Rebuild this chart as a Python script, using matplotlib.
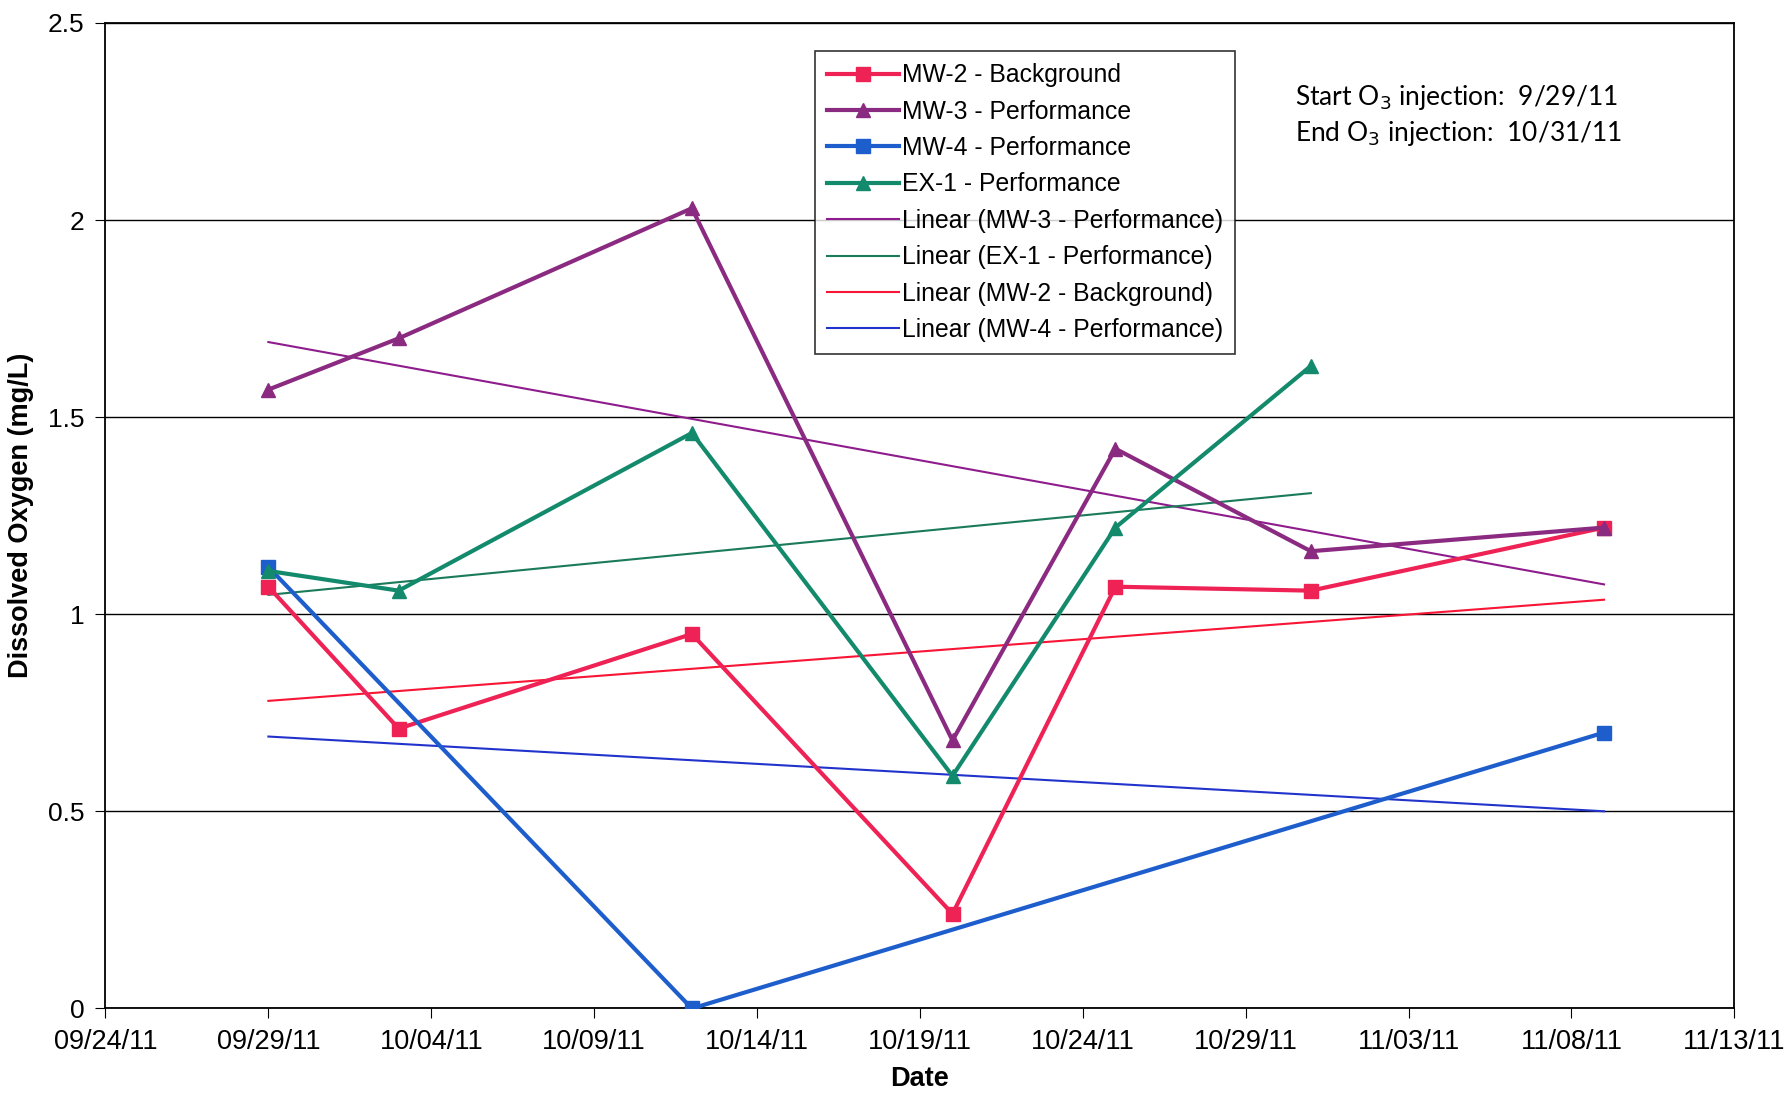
import datetime as dt
import numpy as np
import matplotlib
matplotlib.use("Agg")
import matplotlib.pyplot as plt
import matplotlib.dates as mdates

# sampling dates (days) and dissolved oxygen readings, mg/L
dates_all = ["2011-09-29", "2011-10-03", "2011-10-12", "2011-10-20",
             "2011-10-25", "2011-10-31", "2011-11-09"]
mw2 = [1.07, 0.71, 0.95, 0.24, 1.07, 1.06, 1.22]
mw3 = [1.57, 1.70, 2.03, 0.68, 1.42, 1.16, 1.22]
mw4_dates = ["2011-09-29", "2011-10-12", "2011-11-09"]
mw4 = [1.12, 0.0, 0.70]
ex1_dates = dates_all[:6]
ex1 = [1.11, 1.06, 1.46, 0.59, 1.22, 1.63]

tick_dates = ["2011-09-24", "2011-09-29", "2011-10-04", "2011-10-09", "2011-10-14",
              "2011-10-19", "2011-10-24", "2011-10-29", "2011-11-03", "2011-11-08",
              "2011-11-13"]


def to_num(ds):
    return mdates.date2num([dt.datetime.strptime(d, "%Y-%m-%d") for d in ds])


narrow = ["Liberation Sans Narrow", "Liberation Sans", "DejaVu Sans"]

fig = plt.figure(figsize=(17.88, 10.95), dpi=100)
ax = fig.add_axes([0.059, 0.079, 0.911, 0.900])

c_mw2, c_mw3, c_mw4, c_ex1 = "#EE2255", "#8A2A80", "#1E5ECC", "#138A6C"
t_mw3, t_ex1, t_mw2, t_mw4 = "#8E1C8C", "#1B7A5A", "#F81535", "#2233CC"

x_all = to_num(dates_all)
x_mw4 = to_num(mw4_dates)
x_ex1 = to_num(ex1_dates)

ax.plot(x_all, mw2, color=c_mw2, lw=3, marker="s", ms=9.5, label="MW-2 - Background", zorder=5)
ax.plot(x_all, mw3, color=c_mw3, lw=3, marker="^", ms=10, label="MW-3 - Performance", zorder=5)
ax.plot(x_mw4, mw4, color=c_mw4, lw=3, marker="s", ms=9.5, label="MW-4 - Performance", zorder=5)
ax.plot(x_ex1, ex1, color=c_ex1, lw=3, marker="^", ms=10, label="EX-1 - Performance", zorder=5)

# least-squares trend lines over each series' own date span
def trend(x, y, color, label):
    k, b = np.polyfit(x, y, 1)
    xs = np.array([x[0], x[-1]])
    ax.plot(xs, k * xs + b, color=color, lw=1.5, label=label, zorder=4)

trend(x_all, mw3, t_mw3, "Linear (MW-3 - Performance)")
trend(x_ex1, ex1, t_ex1, "Linear (EX-1 - Performance)")
trend(x_all, mw2, t_mw2, "Linear (MW-2 - Background)")
trend(x_mw4, mw4, t_mw4, "Linear (MW-4 - Performance)")

ticks = to_num(tick_dates)
ax.set_xlim(ticks[0], ticks[-1])
ax.set_xticks(ticks)
ax.xaxis.set_major_formatter(mdates.DateFormatter("%m/%d/%y"))
ax.set_ylim(0, 2.5)
ax.set_yticks(np.arange(0, 2.51, 0.5))
ax.set_yticklabels(["0", "0.5", "1", "1.5", "2", "2.5"])
ax.grid(axis="y", color="black", lw=1)
ax.set_axisbelow(True)
for s in ax.spines.values():
    s.set_color("black")
    s.set_linewidth(1.3)

ax.tick_params(axis="x", direction="out", length=7, pad=8, labelsize=19.5)
ax.tick_params(axis="y", direction="out", length=7, pad=8, labelsize=19)
for lab in ax.get_xticklabels():
    lab.set_family(narrow)
for lab in ax.get_yticklabels():
    lab.set_family(["Liberation Sans", "DejaVu Sans"])

ax.set_xlabel("Date", fontsize=19.5, fontweight="bold", family=narrow, labelpad=8)
ax.set_ylabel("Dissolved Oxygen (mg/L)", fontsize=19.5, fontweight="bold", family=narrow, labelpad=10)

leg = ax.legend(loc="upper left", bbox_to_anchor=(815 / 1788, 1 - 51 / 1095),
                bbox_transform=fig.transFigure, frameon=True, fancybox=False,
                borderaxespad=0, borderpad=0.5, labelspacing=0.5,
                handlelength=2.9, handletextpad=0.1,
                prop={"family": ["Liberation Sans", "DejaVu Sans"], "size": 17.8})
leg.get_frame().set_edgecolor("black")
leg.get_frame().set_linewidth(1.2)

fig.text(1295 / 1788, 1 - 98 / 1095, "Start O$_3$ injection:  9/29/11",
         fontsize=19, family=["Lato", "DejaVu Sans"], va="center", ha="left")
fig.text(1295 / 1788, 1 - 134 / 1095, "End O$_3$ injection:  10/31/11",
         fontsize=19, family=["Lato", "DejaVu Sans"], va="center", ha="left")

fig.savefig("out.png", dpi=100)
